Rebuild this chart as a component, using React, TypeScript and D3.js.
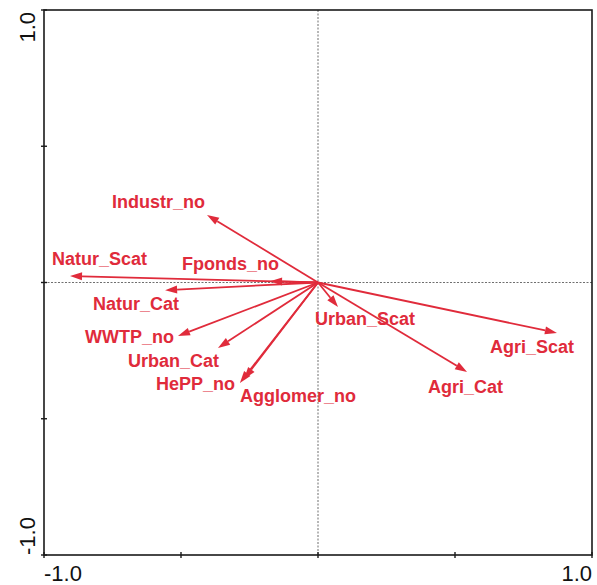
import React from "react";
import * as d3 from "d3";

// Ordination biplot: environmental variables as arrows from the origin
const variables = [
  "Industr_no",
  "Natur_Scat",
  "Fponds_no",
  "Natur_Cat",
  "WWTP_no",
  "Urban_Cat",
  "HePP_no",
  "Agglomer_no",
  "Urban_Scat",
  "Agri_Cat",
  "Agri_Scat",
];
const axis1 = [-0.405, -0.905, -0.175, -0.558, -0.511, -0.365, -0.285, -0.27, 0.073, 0.544, 0.872];
const axis2 = [0.248, 0.024, 0.005, -0.028, -0.196, -0.24, -0.369, -0.354, -0.09, -0.328, -0.185];

const tickValues = [-1, -0.5, 0, 0.5, 1];
const endLabels = ["-1.0", "1.0"];

// label placement relative to each arrow tip (pixels, text-anchor start)
const labelOffsets: [number, number][] = [
  [-95, -7],
  [-18, -11],
  [-88, -11],
  [-72, 20],
  [-93, 7],
  [-90, 19],
  [-84, 7],
  [-4, 23],
  [-23, 18],
  [-39, 21],
  [-67, 20],
];

const W = 597;
const H = 585;
const RED = "#e02b3b";

export default function App() {
  const x = d3.scaleLinear().domain([-1, 1]).range([44, 592]);
  const y = d3.scaleLinear().domain([-1, 1]).range([555, 10]);
  const x0 = x(0);
  const y0 = y(0);

  const arrows = variables.map((name, i) => {
    const tx = x(axis1[i]);
    const ty = y(axis2[i]);
    const ang = Math.atan2(ty - y0, tx - x0);
    const len = 12;
    const hw = 4;
    const bx = tx - len * Math.cos(ang);
    const by = ty - len * Math.sin(ang);
    const px = -Math.sin(ang) * hw;
    const py = Math.cos(ang) * hw;
    const head = `M${tx},${ty}L${bx + px},${by + py}L${bx - px},${by - py}Z`;
    return { name, tx, ty, bx, by, head, off: labelOffsets[i] };
  });

  return (
    <svg
      width={W}
      height={H}
      style={{ position: "fixed", left: 0, top: 0, background: "#fff" }}
      fontFamily="'Liberation Sans', Arial, sans-serif"
    >
      <rect width={W} height={H} fill="#fff" />
      {/* zero lines */}
      <line x1={x0} x2={x0} y1={y(1)} y2={y(-1)} stroke="#6f6f6f" strokeWidth={1} strokeDasharray="2,1.5" />
      <line x1={x(-1)} x2={x(1)} y1={y0} y2={y0} stroke="#6f6f6f" strokeWidth={1} strokeDasharray="2,1.5" />

      {/* frame */}
      <rect
        x={x(-1)}
        y={y(1)}
        width={x(1) - x(-1)}
        height={y(-1) - y(1)}
        fill="none"
        stroke="#1a1a1a"
        strokeWidth={1.6}
      />
      {tickValues.map((t) => (
        <g key={"t" + t}>
          <line x1={x(t)} x2={x(t)} y1={y(-1) - 3} y2={y(-1) + 3} stroke="#1a1a1a" strokeWidth={1.4} />
          <line x1={x(-1) - 3} x2={x(-1) + 3} y1={y(t)} y2={y(t)} stroke="#1a1a1a" strokeWidth={1.4} />
        </g>
      ))}

      {/* axis end labels */}
      <text x={x(-1)} y={581} fontSize={22} textAnchor="start" fill="#111">
        {endLabels[0]}
      </text>
      <text x={x(1)} y={581} fontSize={22} textAnchor="end" fill="#111">
        {endLabels[1]}
      </text>
      <text transform={`translate(35,${y(-1)}) rotate(-90)`} fontSize={22} textAnchor="start" fill="#111">
        {endLabels[0]}
      </text>
      <text transform={`translate(35,${y(1) + 2}) rotate(-90)`} fontSize={22} textAnchor="end" fill="#111">
        {endLabels[1]}
      </text>

      {/* arrows */}
      {arrows.map((a) => (
        <g key={a.name}>
          <line x1={x0} y1={y0} x2={a.bx} y2={a.by} stroke={RED} strokeWidth={1.8} />
          <path d={a.head} fill={RED} />
        </g>
      ))}
      {arrows.map((a) => (
        <text
          key={"l" + a.name}
          x={a.tx + a.off[0]}
          y={a.ty + a.off[1]}
          fontSize={18}
          fontWeight="bold"
          fill={RED}
        >
          {a.name}
        </text>
      ))}
    </svg>
  );
}
